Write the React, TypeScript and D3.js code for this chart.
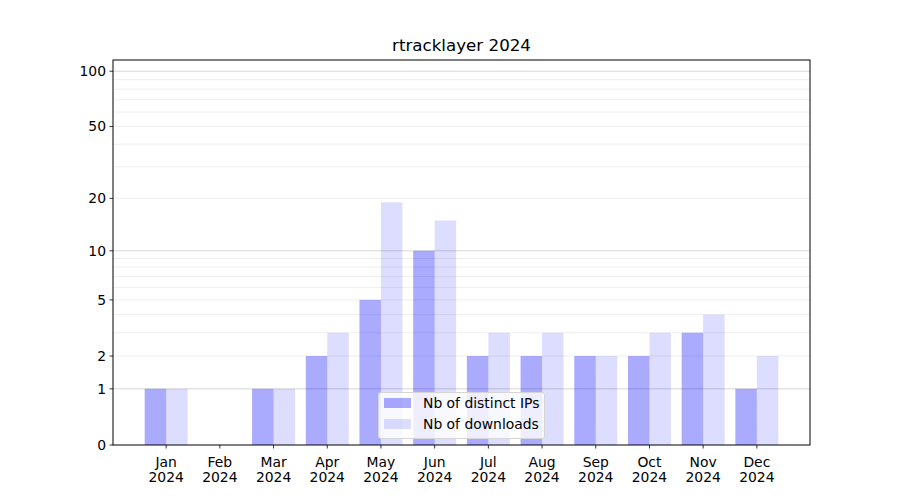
import React from "react";
import * as d3 from "d3";

const months = ["Jan", "Feb", "Mar", "Apr", "May", "Jun", "Jul", "Aug", "Sep", "Oct", "Nov", "Dec"];
const yearLabel = "2024";
const distinctIPs = [1, 0, 1, 2, 5, 10, 2, 2, 2, 2, 3, 1];
const downloads = [1, 0, 1, 3, 19, 15, 3, 3, 2, 3, 4, 2];
const yTickValues = [0, 1, 2, 5, 10, 20, 50, 100];
const majorGrid = [1, 10, 100];
const minorGrid = [2, 3, 4, 5, 6, 7, 8, 9, 20, 30, 40, 50, 60, 70, 80, 90];
const title = "rtracklayer 2024";
const seriesNames = ["Nb of distinct IPs", "Nb of downloads"];

const W = 900, H = 500;
const L = 113, R = 810, T = 60, B = 445;
const FONT = "DejaVu Sans, sans-serif";

export default function App() {
  const x = d3.scaleLinear().domain([-0.99, 11.99]).range([L, R]);
  const t = (v: number) => Math.log10(1 + v);
  const yl = d3.scaleLinear().domain([0, t(115)]).range([B, T]);
  const y = (v: number) => yl(t(v));
  const bw = 0.4;
  const ipColor = "rgba(0,0,255,0.333)";
  const dlColor = "rgba(0,0,255,0.135)";

  return (
    <svg width={W} height={H} style={{ display: "block", position: "absolute", left: 0, top: 0 }} fontFamily={FONT}>
      <rect x={0} y={0} width={W} height={H} fill="white" />
      {/* grid */}
      {minorGrid.map((v) => (
        <line key={"mi" + v} x1={L} x2={R} y1={y(v)} y2={y(v)} stroke="#ebebeb" strokeWidth={0.8} />
      ))}
      {majorGrid.map((v) => (
        <line key={"ma" + v} x1={L} x2={R} y1={y(v)} y2={y(v)} stroke="#cccccc" strokeWidth={0.8} />
      ))}
      {/* bars */}
      {distinctIPs.map((v, i) => (
        <rect key={"ip" + i} x={x(i - bw)} width={x(i) - x(i - bw)} y={y(v)} height={B - y(v)} fill={ipColor} />
      ))}
      {downloads.map((v, i) => (
        <rect key={"dl" + i} x={x(i)} width={x(i + bw) - x(i)} y={y(v)} height={B - y(v)} fill={dlColor} />
      ))}
      {/* axes frame */}
      <rect x={L} y={T} width={R - L} height={B - T} fill="none" stroke="black" strokeWidth={1} />
      {/* y ticks */}
      {yTickValues.map((v) => (
        <g key={"yt" + v}>
          <line x1={L - 3.5} x2={L} y1={y(v)} y2={y(v)} stroke="black" strokeWidth={0.8} />
          <text x={L - 7} y={y(v)} dy="0.35em" textAnchor="end" fontSize={13.9} fill="black">{v}</text>
        </g>
      ))}
      {/* x ticks */}
      {months.map((m, i) => (
        <g key={"xt" + i}>
          <line x1={x(i)} x2={x(i)} y1={B} y2={B + 3.5} stroke="black" strokeWidth={0.8} />
          <text x={x(i)} y={467} textAnchor="middle" fontSize={13.9} fill="black">{m}</text>
          <text x={x(i)} y={482} textAnchor="middle" fontSize={13.9} fill="black">{yearLabel}</text>
        </g>
      ))}
      {/* title */}
      <text x={(L + R) / 2} y={51} textAnchor="middle" fontSize={16.7} fill="black">{title}</text>
      {/* legend */}
      <g>
        <rect x={378.5} y={392.5} width={166} height={46} rx={2.5} fill="rgba(255,255,255,0.8)" stroke="#d5d5d5" strokeWidth={1} />
        <rect x={384} y={398} width={27} height={10} fill={ipColor} />
        <rect x={384} y={419} width={27} height={10} fill={dlColor} />
        <text x={423} y={403} dy="0.35em" fontSize={13.9} fill="black">{seriesNames[0]}</text>
        <text x={423} y={424} dy="0.35em" fontSize={13.9} fill="black">{seriesNames[1]}</text>
      </g>
    </svg>
  );
}
